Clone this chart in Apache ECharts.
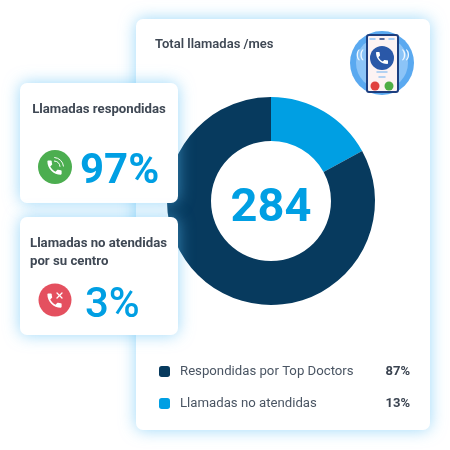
<!DOCTYPE html>
<html><head><meta charset="utf-8">
<style>html,body{margin:0;padding:0;background:#fff}#c{width:450px;height:450px}</style>
<script src="https://cdn.jsdelivr.net/npm/echarts@6/dist/echarts.min.js"></script></head>
<body><div id="c"></div>
<script>
const sliceNames = ['Llamadas no atendidas', 'Respondidas por Top Doctors'];
const sliceValues = [17, 83];
const sliceColors = ['#009fe3', '#073a5e'];
const legendOrder = ['Respondidas por Top Doctors', 'Llamadas no atendidas'];
const legendPercents = { 'Respondidas por Top Doctors': '87%', 'Llamadas no atendidas': '13%' };
const totalLabel = '284';
const chartTitle = 'Total llamadas /mes';
const answeredTitle = 'Llamadas respondidas';
const answeredPct = '97%';
const missedTitle = 'Llamadas no atendidas\npor su centro';
const missedPct = '3%';

const PHONE = 'M6.62 10.79c1.44 2.83 3.76 5.14 6.59 6.59l2.2-2.2c.27-.27.67-.36 1.02-.24 1.12.37 2.33.57 3.57.57.55 0 1 .45 1 1V20c0 .55-.45 1-1 1-9.39 0-17-7.61-17-17 0-.55.45-1 1-1h3.5c.55 0 1 .45 1 1 0 1.25.2 2.45.57 3.57.11.35.03.74-.25 1.02l-2.2 2.2z';
echarts.graphic.registerShape('phoneIcon', echarts.graphic.extendPath(PHONE, {}));
const FONT = 'Roboto';
const card = (x, y, w, h, z) => ({ type: 'rect', z, shape: { x, y, width: w, height: h, r: 7 },
  style: { fill: '#fff', shadowBlur: 16, shadowColor: 'rgba(90,190,245,0.6)' } });
const text = (x, y, t, size, weight, fill, z, align, lh) => ({ type: 'text', z, x, y,
  style: { text: t, font: weight + ' ' + size + 'px ' + FONT, fill, align: align || 'left', verticalAlign: 'middle', lineHeight: lh } });
const phone = (x, y, s, fill, z) => ({ type: 'phoneIcon', z, x, y, scaleX: s / 24, scaleY: s / 24, style: { fill } });
const circle = (cx, cy, r, fill, z) => ({ type: 'circle', z, shape: { cx, cy, r }, style: { fill } });
const line = (x1, y1, x2, y2, stroke, lw, z) => ({ type: 'line', z, shape: { x1, y1, x2, y2 }, style: { stroke, lineWidth: lw, lineCap: 'round' } });
const arc = (cx, cy, r, a0, a1, stroke, lw, z) => ({ type: 'arc', z, shape: { cx, cy, r, startAngle: a0, endAngle: a1, clockwise: true }, style: { stroke, lineWidth: lw, fill: 'none', lineCap: 'round' } });

const chart = echarts.init(document.getElementById('c'));
chart.setOption({
  animation: false,
  backgroundColor: '#fff',
  legend: {
    orient: 'vertical', left: 154, top: 360, itemWidth: 11, itemHeight: 11, itemGap: 19, icon: 'roundRect',
    data: legendOrder, selectedMode: false,
    formatter: n => '{n|' + n + '}{p|' + legendPercents[n] + '}',
    textStyle: { rich: {
      n: { width: 205, padding: [0, 0, 0, 5], fontFamily: FONT, fontSize: 13.2, color: '#4a5563' },
      p: { width: 25, align: 'right', fontFamily: FONT, fontSize: 13, fontWeight: 700, color: '#3a4350' }
    } }
  },
  series: [{
    type: 'pie', z: 3, center: [271, 201], radius: [60, 104], startAngle: 90, clockwise: true,
    label: { show: false }, silent: true,
    data: sliceNames.map((name, i) => ({ name, value: sliceValues[i], itemStyle: { color: sliceColors[i] } }))
  }],
  graphic: { elements: [
    card(136, 19, 294, 411, 0),
    text(155, 45, chartTitle, 13, 600, '#3f4854', 1),
    // header phone illustration
    circle(382, 63, 32, '#5aa9f0', 1),
    circle(382, 63, 26, '#8cc4f7', 1),
    { type: 'rect', z: 2, shape: { x: 367, y: 35, width: 31, height: 57, r: 2 }, style: { fill: '#fdf3f3', stroke: '#1d3f80', lineWidth: 2 } },
    line(370, 39, 375, 39, '#8cc4f7', 1.5, 3), line(389, 39, 394, 39, '#8cc4f7', 1.5, 3), line(380, 39, 384, 39, '#1d3f80', 1.5, 3),
    circle(382, 58, 12, '#2a58a8', 3), phone(374, 50, 16, '#fff', 4),
    line(377, 72, 387, 72, '#9cc8f2', 1.5, 3), line(379, 77, 385, 77, '#9cc8f2', 1.5, 3),
    circle(375, 86, 4.5, '#e0413f', 3), circle(389, 86, 4.5, '#4fae45', 3),
    text(356, 55, '((', 11, 700, '#f0f8ff', 3), text(402, 55, '))', 11, 700, '#f0f8ff', 3),
    text(271, 209, totalLabel, 47, 700, '#009fe3', 5, 'center'),
    // left cards
    card(20, 83, 158, 120, 6),
    text(99, 110, answeredTitle, 13.2, 700, '#3f4854', 7, 'center'),
    circle(55, 167, 17, '#4cae50', 7), phone(45, 158, 19, '#fff', 8),
    arc(54, 167, 6, -1.5, -0.1, '#fff', 1, 8), arc(54, 167, 9.5, -1.5, -0.1, '#fff', 1, 8),
    text(80, 172, answeredPct, 42, 700, '#009fe3', 7),
    card(20, 217, 158, 118, 6),
    text(30, 253, missedTitle, 13.2, 700, '#3f4854', 7, 'left', 18),
    circle(55, 300, 16.5, '#e4505f', 7), phone(45, 291, 19, '#fff', 8),
    line(57, 293, 62, 298, '#fff', 1.3, 8), line(62, 293, 57, 298, '#fff', 1.3, 8),
    text(85, 306, missedPct, 42, 500, '#009fe3', 7)
  ] }
});
</script></body></html>
